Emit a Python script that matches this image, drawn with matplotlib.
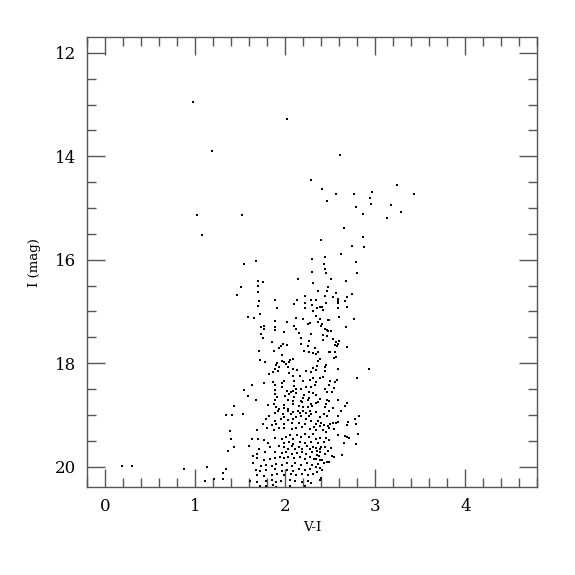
import numpy as np
import matplotlib.pyplot as plt
from matplotlib.ticker import MultipleLocator

# colour (V-I) and magnitude (I), roughly top to bottom
vi_bright = [0.97, 2.02, 1.19, 2.61, 2.28, 2.41, 2.56, 2.76, 2.96, 3.24, 3.43, 2.46, 2.94, 2.95, 2.79,
             3.17, 3.28, 2.86, 3.13, 1.02, 1.52, 1.07, 2.65, 2.40, 2.86, 2.74, 2.87, 2.62, 2.44, 2.30]
i_bright = [12.95, 13.28, 13.89, 13.98, 14.45, 14.63, 14.72, 14.72, 14.70, 14.56, 14.73, 14.87, 14.81, 14.92, 14.99,
            14.94, 15.07, 15.12, 15.20, 15.14, 15.14, 15.52, 15.39, 15.61, 15.56, 15.73, 15.75, 15.88, 15.94, 15.98]

vi_rgb_top = [1.54, 1.67, 2.30, 2.14, 2.31, 1.70, 1.75, 1.51, 1.70, 1.46, 1.70, 1.71, 1.89, 2.22, 2.13,
              2.29, 1.70, 1.91, 2.10, 2.22, 2.22, 2.30, 2.31, 1.72, 1.59, 1.65, 1.89, 2.02, 2.12, 2.20,
              2.27, 2.25, 1.73, 1.76, 1.89, 1.88, 2.10, 2.12, 1.76,
              2.79, 2.43, 2.44, 2.80, 2.45, 2.51, 2.67, 2.47, 2.36, 2.46, 2.56, 2.74, 2.44, 2.53, 2.59,
              2.69, 2.34, 2.58, 2.66, 2.58, 2.45, 2.35, 2.39, 2.41, 2.58, 2.69, 2.42, 2.34, 2.60, 2.39,
              2.47, 2.48, 2.76, 2.36, 2.41, 2.40, 2.44, 2.67, 2.46]
i_rgb_top = [16.08, 16.03, 16.23, 16.37, 16.45, 16.41, 16.43, 16.52, 16.51, 16.68, 16.63, 16.79, 16.77, 16.70, 16.77,
             16.77, 16.89, 16.93, 16.86, 16.83, 16.93, 16.88, 16.99, 17.05, 17.10, 17.13, 17.19, 17.20, 17.12, 17.15,
             17.22, 17.25, 17.30, 17.28, 17.31, 17.35, 17.29, 17.34, 17.34,
             16.05, 16.09, 16.17, 16.25, 16.25, 16.37, 16.42, 16.52, 16.60, 16.60, 16.65, 16.67, 16.70, 16.72, 16.75,
             16.73, 16.77, 16.79, 16.79, 16.84, 16.84, 16.93, 16.91, 16.92, 16.93, 16.92, 16.98, 17.08, 17.10, 17.14,
             17.16, 17.17, 17.15, 17.20, 17.24, 17.28, 17.33, 17.30, 17.35]

vi_rgb_mid = [1.73, 1.99, 2.15, 1.75, 2.17, 2.29, 1.85, 1.97, 1.95, 2.02, 1.93, 1.87, 2.17, 2.25, 2.26,
              1.71, 2.21, 2.26, 2.31, 1.96, 1.72, 1.77, 1.91, 1.96, 1.99, 2.05, 2.09, 2.04, 2.01, 1.90,
              1.93, 1.88, 1.92, 1.82, 1.86, 2.03, 2.09, 2.13, 2.04, 2.09, 2.16, 2.23, 2.29, 2.31, 1.99,
              1.96, 1.86, 1.76, 2.10, 2.20, 2.27, 2.31, 1.63, 1.88, 1.96, 2.10, 2.23, 2.29, 1.54, 1.89,
              2.02, 2.06, 2.09, 2.12, 2.17, 2.26, 2.31, 1.89, 2.04, 2.12, 2.21, 1.58, 1.91, 2.00, 2.10,
              2.20, 2.26, 1.67, 1.89, 2.03, 2.09, 2.17, 2.25, 1.43, 1.81, 1.87, 1.99, 2.09, 2.18, 2.28,
              1.90, 1.93, 1.99, 2.03, 2.15, 2.20, 2.25, 2.30,
              2.47, 2.51, 2.42, 2.46, 2.53, 2.60, 2.42, 2.56, 2.59, 2.55, 2.57, 2.69, 2.33, 2.36, 2.34,
              2.49, 2.50, 2.55, 2.38, 2.54, 2.56, 2.36, 2.35, 2.45, 2.44, 2.58, 2.34, 2.44, 2.93, 2.80,
              2.42, 2.38, 2.34, 2.50, 2.55, 2.57, 2.48, 2.33, 2.44, 2.54, 2.46, 2.52, 2.34, 2.39, 2.46,
              2.48, 2.59, 2.36, 2.34, 2.68, 2.66, 2.45, 2.44, 2.53]
i_rgb_mid = [17.44, 17.40, 17.42, 17.51, 17.51, 17.43, 17.60, 17.62, 17.66, 17.65, 17.71, 17.76, 17.62, 17.66, 17.58,
             17.76, 17.77, 17.78, 17.80, 17.84, 17.93, 17.98, 17.99, 17.96, 17.97, 17.93, 17.92, 17.98, 18.02, 18.04,
             18.07, 18.11, 18.15, 18.21, 18.18, 18.07, 18.11, 18.13, 18.19, 18.24, 18.24, 18.15, 18.18, 18.09, 18.34,
             18.38, 18.36, 18.39, 18.35, 18.34, 18.33, 18.29, 18.43, 18.42, 18.46, 18.45, 18.46, 18.47, 18.52, 18.51,
             18.54, 18.55, 18.54, 18.50, 18.50, 18.55, 18.57, 18.60, 18.60, 18.58, 18.61, 18.64, 18.65, 18.64, 18.65,
             18.67, 18.67, 18.71, 18.72, 18.71, 18.73, 18.73, 18.72, 18.82, 18.80, 18.78, 18.80, 18.78, 18.76, 18.78,
             18.85, 18.88, 18.87, 18.89, 18.83, 18.85, 18.85, 18.83,
             17.37, 17.38, 17.46, 17.48, 17.53, 17.57, 17.56, 17.59, 17.62, 17.64, 17.66, 17.68, 17.71, 17.78, 17.82,
             17.79, 17.78, 17.79, 17.91, 17.90, 17.89, 17.96, 18.05, 18.04, 18.07, 18.11, 18.14, 18.15, 18.11, 18.29,
             18.26, 18.28, 18.37, 18.34, 18.36, 18.32, 18.42, 18.43, 18.49, 18.48, 18.56, 18.56, 18.61, 18.70, 18.72,
             18.74, 18.72, 18.76, 18.77, 18.77, 18.82, 18.78, 18.85, 18.87]

vi_faint = [1.34, 1.41, 1.53, 1.82, 1.88, 1.92, 1.97, 2.03, 2.06, 2.09, 2.14, 2.16, 2.20, 2.23, 2.27,
            2.29, 1.98, 1.95, 2.03, 2.09, 2.12, 2.17, 2.23, 2.26, 1.79, 1.88, 1.75, 1.85, 1.90, 1.99,
            2.07, 2.15, 2.22, 2.28, 1.38, 1.69, 1.80, 1.87, 1.93, 1.98, 2.07, 2.12, 2.19, 2.27, 2.32,
            1.40, 1.63, 1.70, 1.76, 1.81, 1.88, 1.96, 2.01, 2.05, 2.09, 2.13, 2.17, 2.22, 2.26, 2.31,
            1.99, 2.04, 2.09, 2.16, 2.22, 2.28, 1.43, 1.60, 1.71, 1.83, 1.93, 1.99, 2.03, 2.07, 2.11,
            2.15, 2.19, 2.24, 2.27, 2.31, 1.36, 1.77, 1.69, 1.64, 1.88, 1.96, 2.01, 2.07, 2.13, 2.18,
            2.23, 2.30, 1.69, 1.76, 1.83, 1.89, 1.94, 1.98, 2.03, 2.10, 2.16, 2.22, 2.27, 2.32, 1.34,
            1.64, 1.73, 1.79, 1.85, 1.90, 1.96, 2.02, 2.07, 2.11, 2.17, 2.24, 2.30, 1.67, 1.72, 1.79,
            1.88, 1.96, 2.02, 2.09, 2.15, 2.22, 2.27, 1.69, 1.76, 1.85, 1.91, 1.99, 2.06, 2.12, 2.19,
            2.25, 2.31, 1.61, 1.69, 1.78, 1.85, 1.90, 1.95, 2.05, 2.11, 2.19, 2.25, 2.29, 1.72, 1.79,
            1.86, 1.90, 2.05, 2.22,
            2.34, 2.43, 2.48, 2.62, 2.46, 2.38, 2.36, 2.34, 2.40, 2.39, 2.43, 2.50, 2.47, 2.53, 2.56,
            2.59, 2.59, 2.70, 2.77, 2.82, 2.68, 2.78, 2.34, 2.42, 2.48, 2.45, 2.54, 2.59, 2.66, 2.68,
            2.71, 2.81, 2.65, 2.79, 2.34, 2.39, 2.45, 2.36, 2.43, 2.49, 2.34, 2.38, 2.40, 2.44, 2.51,
            2.35, 2.39, 2.47, 2.35, 2.37, 2.44, 2.52, 2.54, 2.34, 2.38, 2.41, 2.46, 2.49, 2.63, 2.36,
            2.43, 2.34, 2.39, 2.41, 2.35, 2.40, 2.39,
            0.18, 0.30, 0.87, 1.13, 1.11, 1.21, 1.31, 1.31]
i_faint = [19.01, 19.01, 18.99, 19.02, 18.96, 18.92, 18.98, 18.92, 18.98, 18.94, 18.92, 18.96, 18.92, 18.97, 18.92,
           18.98, 19.04, 19.08, 19.09, 19.07, 19.04, 19.02, 19.07, 19.03, 19.08, 19.11, 19.17, 19.19, 19.17, 19.18,
           19.16, 19.16, 19.17, 19.12, 19.31, 19.29, 19.26, 19.29, 19.26, 19.26, 19.27, 19.26, 19.24, 19.27, 19.23,
           19.46, 19.46, 19.47, 19.49, 19.54, 19.45, 19.46, 19.43, 19.38, 19.47, 19.38, 19.43, 19.37, 19.43, 19.36,
           19.54, 19.53, 19.56, 19.52, 19.54, 19.52, 19.63, 19.61, 19.66, 19.63, 19.61, 19.62, 19.65, 19.61, 19.66,
           19.62, 19.66, 19.61, 19.66, 19.62, 19.70, 19.72, 19.75, 19.79, 19.71, 19.73, 19.71, 19.75, 19.74, 19.72,
           19.75, 19.72, 19.84, 19.88, 19.85, 19.83, 19.81, 19.84, 19.81, 19.84, 19.81, 19.85, 19.81, 19.85, 20.04,
           19.93, 19.98, 19.96, 19.98, 19.94, 19.97, 19.93, 19.98, 19.93, 19.96, 19.93, 19.96, 20.06, 20.08, 20.07,
           20.04, 20.08, 20.06, 20.08, 20.04, 20.07, 20.04, 20.16, 20.19, 20.16, 20.14, 20.16, 20.15, 20.17, 20.15,
           20.16, 20.14, 20.28, 20.30, 20.28, 20.25, 20.29, 20.27, 20.25, 20.28, 20.29, 20.28, 20.32, 20.38, 20.38,
           20.35, 20.39, 20.37, 20.37,
           18.94, 18.99, 18.92, 18.92, 19.03, 19.04, 19.11, 19.18, 19.16, 19.21, 19.19, 19.17, 19.21, 19.16, 19.16,
           19.13, 19.02, 19.14, 19.07, 19.03, 19.20, 19.18, 19.29, 19.30, 19.25, 19.34, 19.27, 19.38, 19.41, 19.42,
           19.45, 19.36, 19.54, 19.56, 19.47, 19.44, 19.45, 19.54, 19.52, 19.48, 19.64, 19.65, 19.63, 19.62, 19.64,
           19.70, 19.72, 19.69, 19.78, 19.80, 19.75, 19.79, 19.81, 19.85, 19.88, 19.87, 19.92, 19.91, 19.78, 19.94,
           19.93, 20.01, 20.03, 20.06, 20.11, 20.22, 20.25,
           19.98, 19.98, 20.04, 20.01, 20.28, 20.23, 20.12, 20.23]

vi = np.array(vi_bright + vi_rgb_top + vi_rgb_mid + vi_faint)
imag = np.array(i_bright + i_rgb_top + i_rgb_mid + i_faint)

plt.rcParams['font.family'] = 'DejaVu Serif'
fig = plt.figure(figsize=(5.75, 5.75), dpi=100)
ax = fig.add_axes([0.152, 0.1525, 0.7825, 0.7826])

ax.plot(vi, imag, 's', color='black', ms=1.6, mew=0, ls='none')

ax.set_xlim(-0.2, 4.8)
ax.set_ylim(20.4, 11.7)
ax.xaxis.set_major_locator(MultipleLocator(1))
ax.xaxis.set_minor_locator(MultipleLocator(0.2))
ax.yaxis.set_major_locator(MultipleLocator(2))
ax.yaxis.set_minor_locator(MultipleLocator(0.5))
ax.tick_params(which='both', direction='in', top=True, right=True, color='#555555', width=1,
               labelsize=12, pad=8)
ax.tick_params(which='major', length=13)
ax.tick_params(which='minor', length=6.5)
for s in ax.spines.values():
    s.set_color('#555555')
    s.set_linewidth(1)

ax.set_xlabel('V-I', fontsize=9.5, labelpad=4)
ax.set_ylabel('I (mag)', fontsize=9.5, labelpad=10)

plt.savefig('out.png', dpi=100)
